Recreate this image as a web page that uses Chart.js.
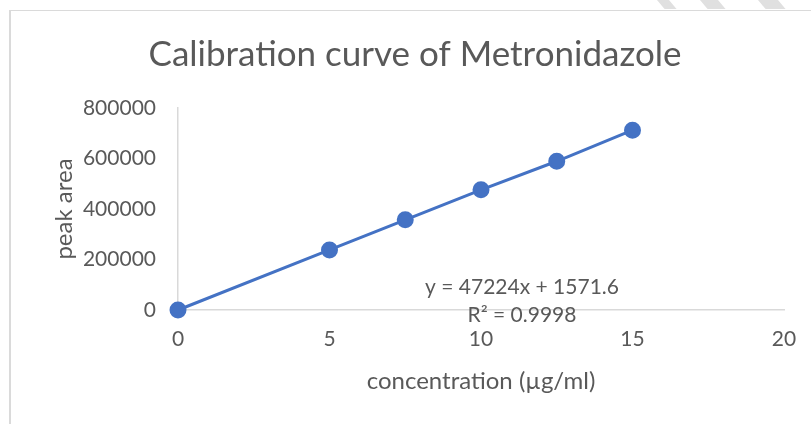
<!DOCTYPE html>
<html>
<head>
<meta charset="utf-8">
<script src="https://cdn.jsdelivr.net/npm/chart.js@4.4.0/dist/chart.umd.min.js"></script>
<style>
    html, body {
        margin: 0;
        padding: 0;
        background: #fff;
        overflow: hidden;
    }
    .frame {
        position: absolute;
        left: 9px;
        top: 10px;
        width: 900px;
        height: 500px;
        border-left: 2px solid #dadada;
        border-top: 1px solid #dadada;
    }
    .stripe {
        position: absolute;
        top: 0;
        height: 9px;
        background: #e0e0e0;
        transform: skewX(40deg);
        transform-origin: top left;
    }
    #wrap {
        position: absolute;
        left: 0;
        top: 0;
        width: 840px;
        height: 424px;
    }
</style>
</head>
<body>
<div class="stripe" style="left:657px;width:12px"></div>
<div class="stripe" style="left:700px;width:18px"></div>
<div class="stripe" style="left:758px;width:20px"></div>
<div class="frame"></div>
<div id="wrap"><canvas id="calChart"></canvas></div>
<script>
const concentrations = [0, 5, 7.5, 10, 12.5, 15];
const peakAreas = [0, 238000, 357000, 476000, 589000, 712000];
const xTicks = [0, 5, 10, 15, 20];
const yTicks = [0, 200000, 400000, 600000, 800000];
const equationLines = ["y = 47224x + 1571.6", "R² = 0.9998"];

const FONT = "Lato, 'Open Sans', sans-serif";
const TEXT = "#595959";
const AXIS = "#d9d9d9";
const BLUE = "#4472c4";

// trendline equation label, like Excel puts it
const equationLabel = {
    id: "equationLabel",
    afterDatasetsDraw(chart) {
        const { ctx, chartArea } = chart;
        ctx.save();
        ctx.font = "21px " + FONT;
        ctx.fillStyle = TEXT;
        ctx.textAlign = "center";
        ctx.textBaseline = "middle";
        const cx = chartArea.left + 344;
        ctx.fillText(equationLines[0], cx, chartArea.bottom - 23);
        ctx.fillText(equationLines[1], cx, chartArea.bottom + 5);
        ctx.restore();
    },
};

new Chart(document.getElementById("calChart"), {
    type: "scatter",
    data: {
        datasets: [
            {
                data: concentrations.map((c, i) => ({ x: c, y: peakAreas[i] })),
                showLine: true,
                clip: false,
                borderColor: BLUE,
                borderWidth: 3,
                backgroundColor: BLUE,
                pointBackgroundColor: BLUE,
                pointBorderColor: BLUE,
                pointRadius: 7,
                pointHoverRadius: 7,
            },
        ],
    },
    options: {
        responsive: true,
        maintainAspectRatio: false,
        animation: false,
        layout: { padding: { left: 46, right: 56, top: 0, bottom: 0 } },
        plugins: {
            legend: { display: false },
            tooltip: { enabled: false },
            title: {
                display: true,
                text: "Calibration curve of Metronidazole",
                color: TEXT,
                font: { family: FONT, size: 35, weight: "normal" },
                padding: { top: 34, bottom: 32 },
            },
        },
        scales: {
            x: {
                type: "linear",
                min: 0,
                max: 20,
                afterBuildTicks: (s) => { s.ticks = xTicks.map((v) => ({ value: v })); },
                afterFit: (s) => { s.height = 114; },
                grid: { display: false, drawTicks: false },
                border: { display: true, color: AXIS, width: 1.5 },
                ticks: {
                    color: TEXT,
                    padding: 17,
                    font: { family: FONT, size: 21 },
                },
                title: {
                    display: true,
                    text: "concentration (µg/ml)",
                    color: TEXT,
                    font: { family: FONT, size: 24 },
                    padding: { top: 4, bottom: 28 },
                },
            },
            y: {
                type: "linear",
                min: 0,
                max: 800000,
                afterBuildTicks: (s) => { s.ticks = yTicks.map((v) => ({ value: v })); },
                afterFit: (s) => { s.width = 132; },
                grid: { display: false, drawTicks: false },
                border: { display: true, color: AXIS, width: 1.5 },
                ticks: {
                    color: TEXT,
                    padding: 22,
                    font: { family: FONT, size: 21 },
                    callback: (v) => String(v),
                },
                title: {
                    display: true,
                    text: "peak area",
                    color: TEXT,
                    font: { family: FONT, size: 24 },
                    padding: { top: 4, bottom: 0 },
                },
            },
        },
    },
    plugins: [equationLabel],
});
</script>
</body>
</html>
